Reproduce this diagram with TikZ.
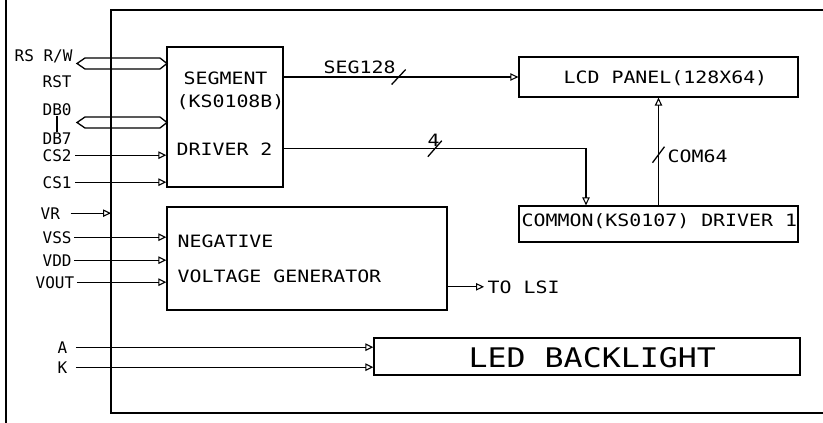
\documentclass[tikz,border=0pt]{standalone}
\usepackage{fontspec}
\newfontfamily\cadfont[FakeStretch=1.17]{DejaVu Sans Mono}
\newfontfamily\pinfont{DejaVu Sans Mono}
\usetikzlibrary{arrows.meta,calc}
\begin{document}
\begin{tikzpicture}[
    x=1pt, y=-1pt,
    line width=1.3pt,
    block/.style={draw, rectangle, inner sep=0pt},
    pin/.style={font=\pinfont\fontsize{16}{16}\selectfont, inner sep=0pt, anchor=base west},
    lbl/.style={font=\cadfont\fontsize{17}{17}\selectfont, inner sep=0pt, anchor=base west},
    biglbl/.style={lbl, font=\cadfont\fontsize{27}{27}\selectfont},
    sig/.style={-{Triangle[open,length=8pt,width=7.5pt,line width=1.1pt]}},
]
    \useasboundingbox (0,0) rectangle (823,423);

    % Module frame
    \coordinate (frame) at (111,10);
    \draw (823,10) -| (111,413) -- (823,413);
    \draw (6,0) -- (6,423);

    % Blocks
    \node[block, minimum width=116pt, minimum height=140pt] (seg) at (225,117) {};
    \node[block, minimum width=279pt, minimum height=40pt] (lcd) at (658.5,77) {};
    \node[block, minimum width=279pt, minimum height=36pt] (com) at (658.5,224) {};
    \node[block, minimum width=280pt, minimum height=103pt] (neg) at (307,258.5) {};
    \node[block, minimum width=426pt, minimum height=37pt] (led) at (587,356.5) {};

    % Block texts
    \node[lbl] (segt) at (183,84) {SEGMENT};
    \node[lbl] (kst) at (176,107) {(KS0108B)};
    \node[lbl] (drv2) at (176,155) {DRIVER 2};
    \node[lbl] (lcdt) at (563,83) {LCD PANEL(128X64)};
    \node[lbl] (comt) at (521,226) {COMMON(KS0107) DRIVER 1};
    \node[lbl] (negt) at (177,247) {NEGATIVE};
    \node[lbl] (volt) at (177,282) {VOLTAGE GENERATOR};
    \node[biglbl] (ledt) at (468,367) {LED BACKLIGHT};

    % Pins
    \node[pin] (rsrw) at (14,61) {RS R/W};
    \node[pin] (rst) at (42,87) {RST};
    \node[pin] (db0) at (42,115) {DB0};
    \node[pin] (db7) at (42,144) {DB7};
    \node[pin] (cs2) at (42,161) {CS2};
    \node[pin] (cs1) at (42,188) {CS1};
    \node[pin] (vr) at (40,219) {VR};
    \node[pin] (vss) at (42,243) {VSS};
    \node[pin] (vdd) at (42,266) {VDD};
    \node[pin] (vout) at (35,288) {VOUT};
    \node[pin] (a) at (57,353) {A};
    \node[pin] (k) at (57,373) {K};

    % Buses
    \foreach \y in {63.5,122.5}
        \draw (77,\y) -- (85,\y-5.5) -- (160,\y-5.5) -- (167,\y)
            -- (160,\y+5.5) -- (85,\y+5.5) -- cycle;
    \draw (db0.south) -- (db7.north);

    % Inputs
    \foreach \p in {cs2,cs1}
        \draw[sig] ([xshift=3pt]\p.east) -- (\p.east -| seg.west);
    \draw[sig] ([xshift=10pt]vr.east) -- (vr.east -| frame);
    \foreach \p in {vss,vdd,vout}
        \draw[sig] ([xshift=2pt]\p.east) -- (\p.east -| neg.west);
    \foreach \p in {a,k}
        \draw[sig] ([xshift=8pt]\p.east) -- (\p.east -| led.west);

    % SEG128
    \draw[sig] (seg.east |- lcd.west) -- coordinate[pos=0.49] (tickseg) (lcd.west);
    \draw ($(tickseg)+(-7,7.5)$) -- ($(tickseg)+(7,-7.5)$);
    \node[lbl] (segl) at (323,73) {SEG128};

    % 4 lines
    \draw[sig] (seg.east |- drv2) -- coordinate[pos=0.5] (tick4) ([xshift=-72.5pt]com.north |- drv2) -- ([xshift=-72.5pt]com.north);
    \draw ($(tick4)+(-7,8)$) -- ($(tick4)+(7,-8)$);
    \node[lbl] (fourl) at (427,146) {4};

    % COM64
    \draw[sig] (com.north) -- coordinate[pos=0.47] (tickcom) (lcd.south);
    \draw ($(tickcom)+(-6,8)$) -- ($(tickcom)+(6,-8)$);
    \node[lbl] (coml) at (667,162) {COM64};

    % To LSI
    \node[lbl] (lsi) at (487,293) {TO LSI};
    \draw[sig] (neg.east |- lsi) -- ([xshift=-3pt]lsi.west);
\end{tikzpicture}
\end{document}
